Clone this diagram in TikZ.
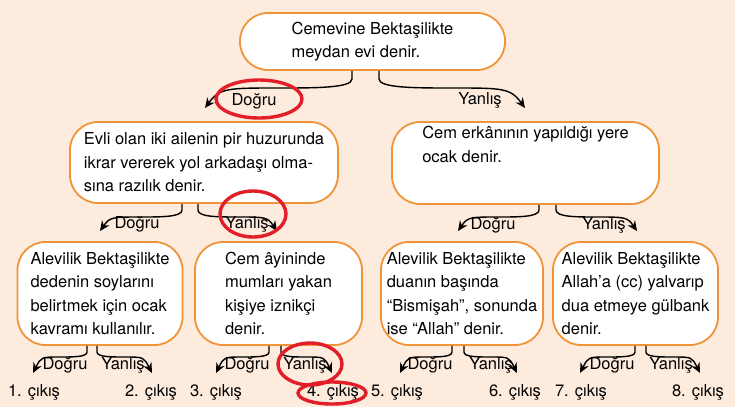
\documentclass[tikz,border=0pt]{standalone}
\usepackage{fontspec}
\setmainfont{TeX Gyre Heros}
\usetikzlibrary{arrows.meta, positioning}
\definecolor{peach}{RGB}{253,235,221}
\definecolor{boxorange}{RGB}{240,148,58}
\definecolor{markred}{RGB}{226,30,40}

\begin{document}
\begin{tikzpicture}[x=1pt, y=-1pt, >=Stealth,
    card/.style={draw=boxorange, line width=1.8pt, fill=white, rounded corners=28pt,
                 align=left, inner sep=0pt, font=\fontsize{16.5}{23.5}\selectfont},
    small card/.style={card, minimum width=165pt, minimum height=103pt},
    branch/.style={line width=1.4pt, -{Stealth[length=10pt,width=9pt]}},
    answer/.style={inner sep=0pt, font=\fontsize{16.5}{20}\selectfont},
    redring/.style={draw=markred, line width=3.4pt}]

    % background and page size
    \fill[peach] (0,0) rectangle (735,407);
    \useasboundingbox (0,0) rectangle (735,407);

    % the statements:
    \node[card, minimum width=265pt, minimum height=57pt] (top) at (372.5,41.5)
        {Cemevine Bektaşilikte\\meydan evi denir.};

    \node[card, minimum width=268pt, minimum height=81pt] (left) at (204,162.5)
        {Evli olan iki ailenin pir huzurunda\\ikrar vererek yol arkadaşı olma-\\sına razılık denir.};
    \node[card, minimum width=267pt, minimum height=82pt] (right) at (525.5,163)
        {Cem erkânının yapıldığı yere\\ocak denir.\\[14pt]};

    \node[small card] (ocak) at (100,293.5)
        {Alevilik Bektaşilikte\\dedenin soylarını\\belirtmek için ocak\\kavramı kullanılır.};
    \node[small card, minimum width=167pt] (iznik) at (278.5,293.5)
        {Cem âyininde\\mumları yakan\\kişiye iznikçi\\denir.};
    \node[small card, minimum width=162pt] (bism) at (462,293.5)
        {Alevilik Bektaşilikte\\duanın başında\\“Bismişah”, sonunda\\ise “Allah” denir.};
    \node[small card] (gulb) at (635.5,293.5)
        {Alevilik Bektaşilikte\\Allah’a (cc) yalvarıp\\dua etmeye gülbank\\denir.};

    % branches under the first box
    \foreach \b/\xs/\xt in {top/352/205, top/379/525}{
        \coordinate (tip) at (\xt,108);
        \draw[branch] (\b.south -| \xs,0) -- (\xs,79)
            .. controls (\xs,88) and ({\xs+0.25*(\xt-\xs)},88) .. ({\xs+0.5*(\xt-\xs)},88)
            .. controls ({\xs+0.85*(\xt-\xs)},88) and ({\xt+0.1*(\xs-\xt)},88) .. (tip);
    }

    % branches under the second row
    \foreach \b/\xs/\xt in {left/182/100, left/198/277, right/539/458, right/556/637}{
        \coordinate (tip) at (\xt,231);
        \draw[branch] (\b.south -| \xs,0) -- (\xs,210)
            .. controls (\xs,217) and ({\xs+0.25*(\xt-\xs)},217) .. ({\xs+0.5*(\xt-\xs)},217)
            .. controls ({\xs+0.85*(\xt-\xs)},217) and ({\xt+0.12*(\xs-\xt)},217) .. (tip);
    }

    % branches under the last row
    \foreach \b/\xs/\xt in {ocak/87/33, ocak/97/152, iznik/269/216, iznik/281/332,
                            bism/452/400, bism/464/517, gulb/635/580, gulb/646/700}{
        \coordinate (tip) at (\xt,373);
        \draw[branch] (\b.south -| \xs,0) -- (\xs,352)
            .. controls (\xs,357) and ({\xs+0.25*(\xt-\xs)},357) .. ({\xs+0.5*(\xt-\xs)},357)
            .. controls ({\xs+0.85*(\xt-\xs)},357) and ({\xt+0.15*(\xs-\xt)},357) .. (tip);
    }

    % answer labels
    \node[answer] (top-d) at (254,101) {Doğru};
    \node[answer] (top-y) at (480,100) {Yanlış};
    \node[answer] (left-d) at (137,224) {Doğru};
    \node[answer] (left-y) at (247,224) {Yanlış};
    \node[answer] (right-d) at (493,225) {Doğru};
    \node[answer] (right-y) at (604,225) {Yanlış};
    \foreach \n/\xd/\xy in {ocak/65/123, iznik/247/305, bism/430/491, gulb/612/671}{
        \node[answer] (\n-d) at (\xd,365) {Doğru};
        \node[answer] (\n-y) at (\xy,365) {Yanlış};
    }

    % exits
    \foreach \i/\x in {1/34, 2/151, 3/216, 4/333, 5/397, 6/515, 7/581, 8/698}
        \node[answer] (exit\i) at (\x,392) {\i. çıkış};

    % red marks
    \draw[redring] (259,99) ellipse [x radius=43, y radius=19];
    \draw[redring] (253,214) ellipse [x radius=33, y radius=23];
    \draw[redring] (310,364) ellipse [x radius=32, y radius=21];
    \draw[redring] (332,393) ellipse [x radius=34, y radius=11];
%
\end{tikzpicture}
\end{document}
